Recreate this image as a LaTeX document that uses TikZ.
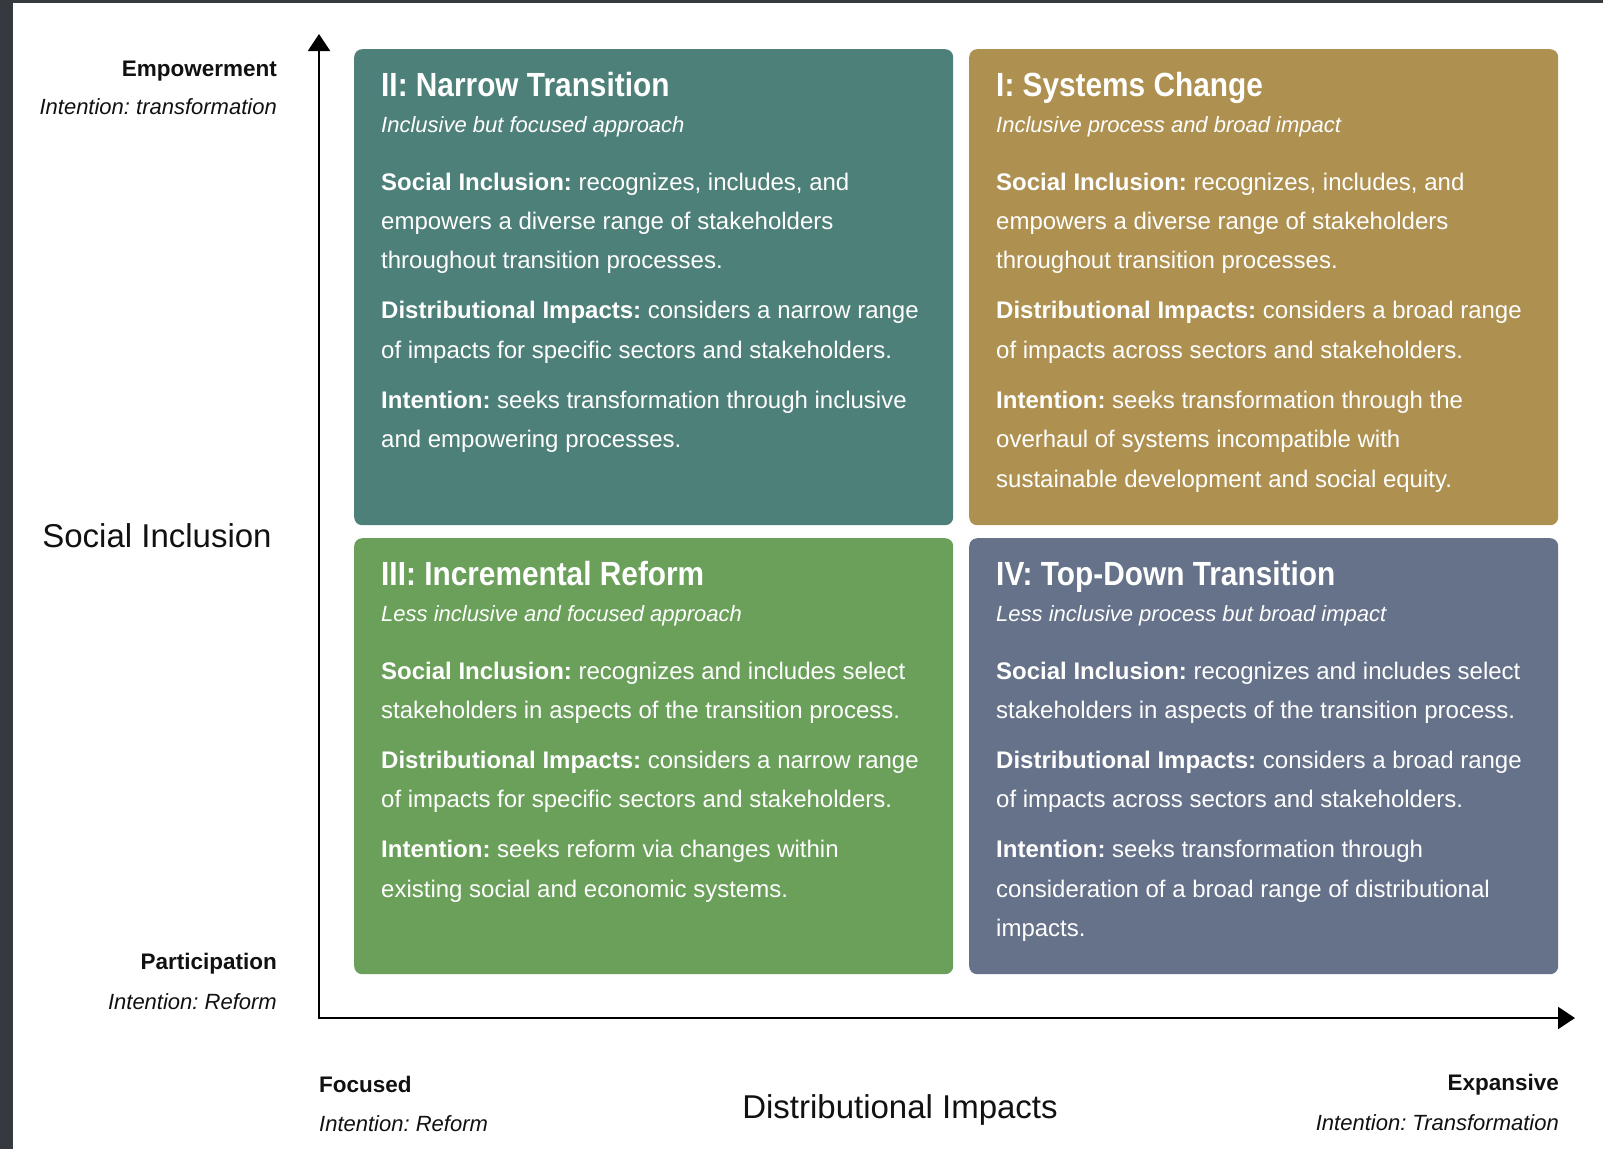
\documentclass[tikz,border=0pt]{standalone}
\usepackage{fontspec}
\setmainfont{Liberation Sans}
\newfontfamily\quadfont[FakeStretch=0.89]{Liberation Sans}
\usepackage{tikz}
\usetikzlibrary{arrows.meta}
\definecolor{framedark}{HTML}{343A40}
\definecolor{qteal}{HTML}{4E807A}
\definecolor{qgold}{HTML}{AE9150}
\definecolor{qgreen}{HTML}{6AA05A}
\definecolor{qslate}{HTML}{66728A}
\definecolor{labelblack}{HTML}{111111}
\frenchspacing

\tikzset{
    quadbox/.style={draw=none, rounded corners=8pt, anchor=north west, inner sep=0pt},
    quadtitle/.style={anchor=base west, inner sep=0pt, text=white, font=\quadfont\bfseries\fontsize{33.5}{40}\selectfont},
    quadsub/.style={anchor=base west, inner sep=0pt, text=white, font=\itshape\fontsize{22}{26}\selectfont},
    quadbody/.style={anchor=base west, inner sep=0pt, text=white, font=\fontsize{24}{39.4}\selectfont},
    axislabel/.style={anchor=base east, inner sep=0pt, text=labelblack, font=\bfseries\fontsize{22.5}{27}\selectfont},
    axisnote/.style={anchor=base east, inner sep=0pt, text=labelblack, font=\itshape\fontsize{22}{26}\selectfont},
    axistitle/.style={anchor=base, inner sep=0pt, text=labelblack, font=\fontsize{33}{40}\selectfont},
    axisline/.style={line width=2pt, {Triangle[length=17pt,width=22pt]}-{Triangle[length=17pt,width=22pt]}}
}

\begin{document}
\begin{tikzpicture}[x=1pt, y=-1pt]
                \fill[white] (0,0) rectangle (1603,1149);
                \useasboundingbox (0,0) rectangle (1603,1149);
                \fill[framedark] (0,0) rectangle (13,1149);
                \fill[framedark] (0,0) rectangle (1603,3);

                % the four quadrants
                \foreach \x/\y/\w/\h/\col/\name/\title/\sub/\body in {
                    354/49/599/476/qteal/q2/{II: Narrow Transition}/{Inclusive but focused approach}/{\textbf{Social Inclusion:} recognizes, includes, and\\empowers a diverse range of stakeholders\\throughout transition processes.\\[10.6pt]\textbf{Distributional Impacts:} considers a narrow range\\of impacts for specific sectors and stakeholders.\\[10.6pt]\textbf{Intention:} seeks transformation through inclusive\\and empowering processes.},
                    969/49/589/476/qgold/q1/{I: Systems Change}/{Inclusive process and broad impact}/{\textbf{Social Inclusion:} recognizes, includes, and\\empowers a diverse range of stakeholders\\throughout transition processes.\\[10.6pt]\textbf{Distributional Impacts:} considers a broad range\\of impacts across sectors and stakeholders.\\[10.6pt]\textbf{Intention:} seeks transformation through the\\overhaul of systems incompatible with\\sustainable development and social equity.},
                    354/538/599/436/qgreen/q3/{III: Incremental Reform}/{Less inclusive and focused approach}/{\textbf{Social Inclusion:} recognizes and includes select\\stakeholders in aspects of the transition process.\\[10.6pt]\textbf{Distributional Impacts:} considers a narrow range\\of impacts for specific sectors and stakeholders.\\[10.6pt]\textbf{Intention:} seeks reform via changes within\\existing social and economic systems.},
                    969/538/589/436/qslate/q4/{IV: Top-Down Transition}/{Less inclusive process but broad impact}/{\textbf{Social Inclusion:} recognizes and includes select\\stakeholders in aspects of the transition process.\\[10.6pt]\textbf{Distributional Impacts:} considers a broad range\\of impacts across sectors and stakeholders.\\[10.6pt]\textbf{Intention:} seeks transformation through\\consideration of a broad range of distributional\\impacts.}
                } {
                    \node[quadbox, fill=\col, minimum width=\w pt, minimum height=\h pt] (\name) at (\x,\y) {};
                    \node[quadtitle] (\name-title) at (\x+27,\y+47) {\title};
                    \node[quadsub] (\name-sub) at (\x+27,\y+83) {\sub};
                    \node[quadbody] (\name-body) at (\x+27,\y+141) {\parbox[t]{570pt}{\raggedright\body}};
                };

                % axes
                \coordinate (ytip) at (319,34);
                \coordinate (origin) at (319,1018);
                \coordinate (xtip) at (1575,1018);
                \draw[axisline] (ytip) -- (origin) -- (xtip);

                \node[axislabel] (empower) at (277,76) {Empowerment};
                \node[axisnote] (empower-note) at (277,114) {Intention: transformation};
                \node[axistitle] (yname) at (157,547) {Social Inclusion};
                \node[axislabel] (particip) at (277,969) {Participation};
                \node[axisnote] (particip-note) at (277,1009) {Intention: Reform};

                \node[axislabel, anchor=base west] (focused) at (319,1092) {Focused};
                \node[axisnote, anchor=base west] (focused-note) at (319,1131) {Intention: Reform};
                \node[axistitle] (xname) at (900,1118) {Distributional Impacts};
                \node[axislabel] (expansive) at (1559,1090) {Expansive};
                \node[axisnote] (expansive-note) at (1559,1130) {Intention: Transformation};
\end{tikzpicture}
\end{document}
